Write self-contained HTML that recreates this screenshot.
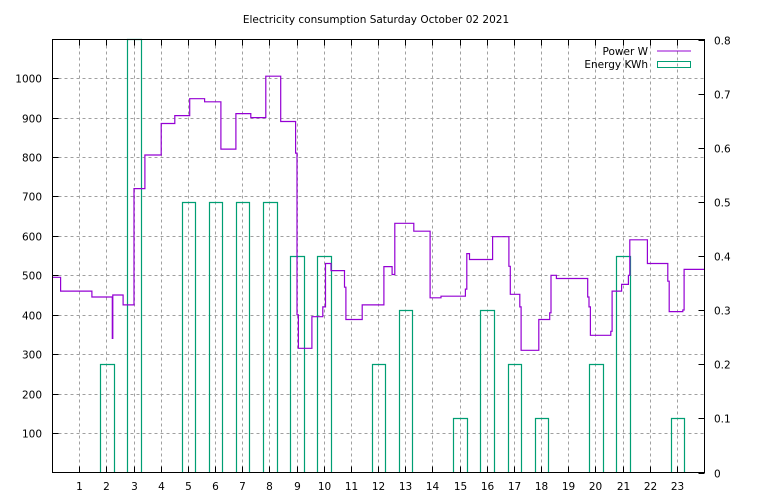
<!DOCTYPE html>
<html><head><meta charset="utf-8"><style>
html,body{margin:0;padding:0;background:#fff;}
svg{display:block;font-family:"DejaVu Sans","Liberation Sans",sans-serif;font-size:10.5px;}
</style></head><body>
<svg id="chart" width="768" height="500" viewBox="0 0 768 500" xmlns="http://www.w3.org/2000/svg">
<text x="376" y="23" text-anchor="middle">Electricity consumption Saturday October 02 2021</text>
<g id="grid"></g>
<g id="bars"></g>
<g id="line"></g>
<g id="axes"></g>
<g>
<text x="648" y="55" text-anchor="end">Power W</text>
<line x1="657" y1="51" x2="691" y2="51" stroke="#9400d3" stroke-width="1"/>
<text x="648" y="68" text-anchor="end">Energy KWh</text>
<rect x="657.5" y="61.5" width="33" height="6" fill="none" stroke="#009e73" stroke-width="1"/>
</g>
</svg>
<script>
const hours = [1,2,3,4,5,6,7,8,9,10,11,12,13,14,15,16,17,18,19,20,21,22,23];
const energyHours = [2,3,5,6,7,8,9,10,12,13,15,16,17,18,20,21,23];
const energyValues = [0.2,1.2,0.5,0.5,0.5,0.5,0.4,0.4,0.2,0.3,0.1,0.3,0.2,0.1,0.2,0.4,0.1];
const powerTimes = [0,0.3,1.45,2.2,2.22,2.6,3.0,3.4,4.0,4.5,5.05,5.6,6.2,6.75,7.3,7.85,8.4,8.95,9.0,9.05,9.55,9.95,10.05,10.25,10.75,10.8,11.4,12.2,12.5,12.6,13.3,13.9,14.3,15.2,15.25,15.35,16.2,16.8,16.85,17.2,17.25,17.9,18.3,18.35,18.55,19.7,19.75,19.8,20.55,20.6,20.95,21.2,21.25,21.9,22.65,22.7,23.2,23.25];
const powerValues = [495,460,445,340,450,425,720,805,885,905,948,940,820,910,900,1005,890,810,400,315,395,420,530,512,470,388,425,522,502,632,612,443,447,465,555,540,598,523,452,420,310,388,405,500,492,445,420,348,358,460,477,500,590,530,485,408,412,515];
const leftTicks = [100,200,300,400,500,600,700,800,900,1000];
const rightTicks = [0,0.1,0.2,0.3,0.4,0.5,0.6,0.7,0.8];

const X0=52.5, X1=704.5, Y0=472.5, Y1=39.5;
const xs = t => X0 + t*(X1-X0)/24;
const yl = v => Y0 - v*(Y0-Y1)/1098;
const yr = v => Y0 - v*(Y0-Y1)/0.8;
const NS="http://www.w3.org/2000/svg";
function mk(tag, parent, attrs){const e=document.createElementNS(NS,tag);for(const k in attrs)e.setAttribute(k,attrs[k]);parent.appendChild(e);return e;}
const grid=document.getElementById('grid'), axes=document.getElementById('axes');
hours.forEach(h=>{
  const x=Math.round(xs(h)-0.5)+0.5;
  const g=mk('line',grid,{x1:x,y1:Y1,x2:x,y2:Y0,stroke:'#a0a0a0','stroke-dasharray':'3,3'});
  
  
  mk('line',axes,{x1:x,y1:Y0,x2:x,y2:Y0-6,stroke:'#000'});
  mk('line',axes,{x1:x,y1:Y1,x2:x,y2:Y1+6,stroke:'#000'});
  const t=mk('text',axes,{x:x,y:490,'text-anchor':'middle'});t.textContent=h;
  
  
});
leftTicks.forEach(v=>{
  const y=Math.round(yl(v))+0.5;
  const g=mk('line',grid,{x1:X0,y1:y,x2:X1,y2:y,stroke:'#a0a0a0','stroke-dasharray':'3,3'});
  
  
  mk('line',axes,{x1:X0,y1:y,x2:X0+6,y2:y,stroke:'#000'});
  const t=mk('text',axes,{x:42,y:y+4,'text-anchor':'end'});t.textContent=v;
  
  
});
rightTicks.forEach(v=>{
  const y=Math.round(yr(v))+0.5;
  mk('line',axes,{x1:X1,y1:y,x2:X1-6,y2:y,stroke:'#000'});
  const t=mk('text',axes,{x:714,y:y+4,'text-anchor':'start'});t.textContent=v===0?'0':v.toFixed(1);
  
  
});
const bars=document.getElementById('bars');
energyHours.forEach((h,i)=>{
  const xa=Math.round(xs(h-0.25))+0.5, xb=Math.round(xs(h+0.25))+0.5;
  const yt=Math.max(Y1, Math.round(yr(energyValues[i]))+0.5);
  const p=mk('path',bars,{d:`M${xa},${Y0}V${yt}H${xb}V${Y0}`,fill:'none',stroke:'#009e73','stroke-width':1.2});
  
  
});
let d='';
powerTimes.forEach((t,i)=>{
  const x=xs(t).toFixed(1), y=yl(powerValues[i]).toFixed(1);
  d += i===0 ? `M${x},${y}` : `H${x}V${y}`;
});
d += `H${X1}`;
const pl=mk('path',document.getElementById('line'),{d:d,fill:'none',stroke:'#9400d3','stroke-width':1.2});


const fr=mk('rect',axes,{x:X0,y:Y1,width:X1-X0,height:Y0-Y1,fill:'none',stroke:'#000','stroke-width':1});


</script>
</body></html>
